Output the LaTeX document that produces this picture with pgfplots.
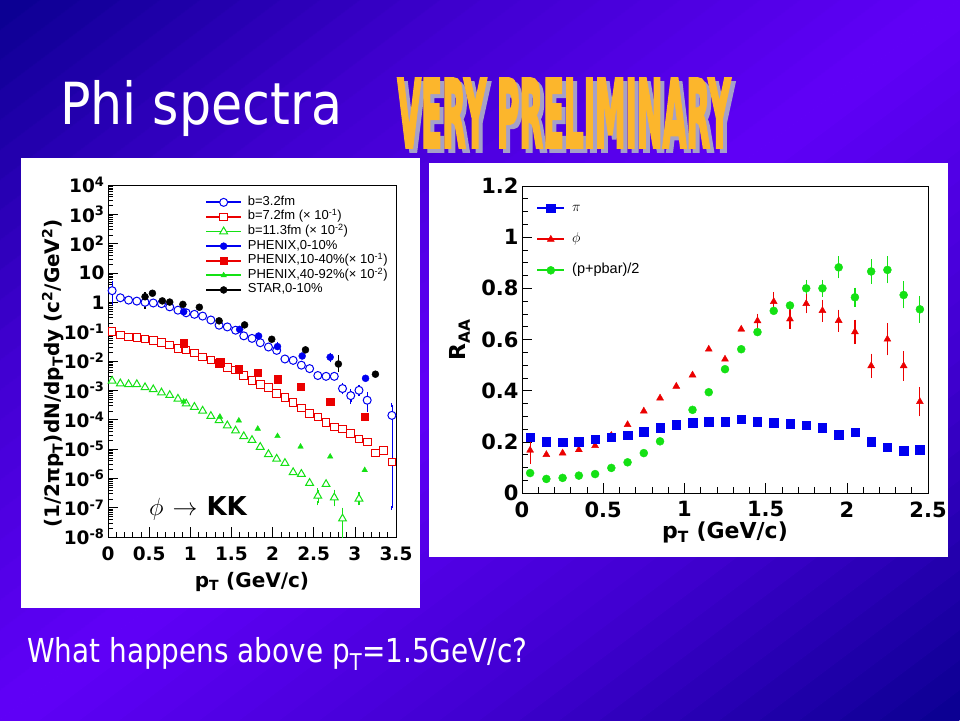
\documentclass[border=0pt]{standalone}
\usepackage{pgfplots}
\pgfplotsset{compat=1.18}
\usepackage{fontspec}
\setmainfont{Liberation Sans}
\newfontfamily\dvs{DejaVu Sans}
\newfontfamily\wa{DejaVu Sans Bold}[FakeBold=4]

\definecolor{bgdark}{RGB}{10,0,144}
\definecolor{bgmid}{RGB}{64,0,208}
\definecolor{bgbright}{RGB}{96,0,248}
\definecolor{rblue}{RGB}{0,0,240}
\definecolor{rred}{RGB}{235,0,0}
\definecolor{rgreen}{RGB}{20,225,20}
\definecolor{wordart}{RGB}{252,182,44}
\definecolor{wshadow}{RGB}{165,160,200}

\newcommand\tp[1]{10\textsuperscript{#1}}
\newcommand\prelim{\fontsize{93}{93}\wa\scalebox{0.33}[1]{VERY PRELIMINARY}}

\begin{document}
\begin{tikzpicture}[x=1pt,y=1pt]
\useasboundingbox (0,0) rectangle (960,720);
% slide background: diagonal bands, dark in two corners, bright along the other diagonal
\begin{scope}
  \clip (0,0) rectangle (960,720);
  \begin{scope}[shift={(480,360)}, rotate=36.87]
    \foreach \i in {0,...,47} {
      \pgfmathsetmacro\t{abs((\i+0.5)/24-1)}
      \pgfmathsetmacro\pa{min(100,\t*200)}
      \pgfmathsetmacro\pb{max(0,\t*200-100)}
      \ifdim\t pt<0.5pt \colorlet{cc}{bgmid!\pa!bgbright}\else\colorlet{cc}{bgdark!\pb!bgmid}\fi
      \fill[cc] (-700,{-576+\i*24}) rectangle (700,{-576+(\i+1)*24+0.6});
    }
  \end{scope}
\end{scope}

% title
\node[anchor=base west, inner sep=0pt, text=white] at (60,595)
  {\fontsize{58}{60}\dvs\scalebox{0.873}[1]{Phi spectra}};

% word art
\node[text=wshadow, inner sep=0pt] at (568,603) {\prelim};
\node[text=wordart, inner sep=0pt] at (564,607) {\prelim};

% bottom line
\node[anchor=base west, inner sep=0pt, text=white] at (27,58)
  {\fontsize{33}{36}\dvs\scalebox{0.845}[1]{What happens above p\textsubscript{T}=1.5GeV/c?}};

% white panels
\fill[white] (21,112) rectangle (420,562);
\fill[white] (429,163) rectangle (948,557);

% ---------------- left: spectra ----------------
\begin{axis}[
  at={(108pt,183pt)}, anchor=south west,
  scale only axis, width=288pt, height=352pt,
  ymode=log, xmin=0, xmax=3.5, ymin=1e-8, ymax=1e4,
  xtick={0,0.5,1,1.5,2,2.5,3,3.5}, minor x tick num=4,
  ytickten={-8,-7,...,4},
  yticklabels={\tp{-8},\tp{-7},\tp{-6},\tp{-5},\tp{-4},\tp{-3},\tp{-2},\tp{-1},1,10,\tp{2},\tp{3},\tp{4}},
  xtick pos=bottom, ytick pos=left, tick align=inside,
  major tick length=10pt, minor tick length=5pt,
  tick style={black, line width=0.6pt},
  axis line style={black, line width=0.8pt},
  /pgf/number format/assume math mode=true,
  tick label style={font=\fontsize{18.5}{20}\dvs\bfseries},
  xticklabel style={yshift=-6pt},
  xlabel={p\textsubscript{T} (GeV/c)},
  xlabel style={at={(axis description cs:0.5,-0.128)}, anchor=center, font=\fontsize{20}{22}\dvs\bfseries},
  ylabel={(1/2πp\textsubscript{T})dN/dp\textsubscript{T}dy (c\textsuperscript{2}/GeV\textsuperscript{2})},
  ylabel style={at={(axis description cs:-0.191,0.465)}, anchor=center, font=\fontsize{20}{22}\dvs\bfseries},
  legend style={at={(axis description cs:0.337,0.972)}, anchor=north west, draw=none, fill=none,
    font=\fontsize{13}{14}\selectfont, inner sep=0pt, column sep=5pt,
    nodes={inner sep=0.8pt, text height=9.5pt, text depth=3.5pt}},
  legend cell align=left,
  legend image code/.code={
    \draw[#1, line width=1.8pt] (0pt,0pt) -- (35pt,0pt);
    \draw[#1] plot coordinates {(17.5pt,0pt)};},
]
% error bars first
\addplot[rblue, forget plot, only marks, mark=none, line width=1.2pt,
  error bars/.cd, y dir=both, y explicit, error mark options={rblue, mark size=2pt, line width=1.2pt}]
  coordinates {(0.05,2.5) += (0,2.0) -= (0,1.57)
    (2.85,0.00115) += (0,0.0004) -= (0,0.0003)
    (2.95,0.00066) += (0,0.0003) -= (0,0.00025)
    (3.05,0.001) += (0,0.0003) -= (0,0.00025)
    (3.15,0.00046) += (0,0.0003) -= (0,0.00025)
    (3.45,0.00014) += (0,0.00018) -= (0,0.0001399)};
\addplot[rgreen, forget plot, only marks, mark=none, line width=1.2pt,
  error bars/.cd, y dir=both, y explicit, error mark options={rgreen, mark size=2pt, line width=1.2pt}]
  coordinates {(2.55,2.5e-7) += (0,1.5e-7) -= (0,1.1e-7)
    (2.75,2.2e-7) += (0,1.3e-7) -= (0,0.9e-7)
    (2.85,4.2e-8) += (0,4.3e-8) -= (0,4.19e-8)
    (3.05,2.0e-7) += (0,0.9e-7) -= (0,0.6e-7)};
\addplot[black, forget plot, only marks, mark=none, line width=1.2pt,
  error bars/.cd, y dir=both, y explicit, error mark options={black, mark size=2pt, line width=1.2pt}]
  coordinates {(0.45,1.55) += (0,0.31) -= (0,0.84)
    (2.8,0.0079) += (0,0.0056) -= (0,0.003)};
\addplot[rblue, forget plot, only marks, mark=none, line width=1.2pt,
  error bars/.cd, y dir=both, y explicit, error mark options={rblue, mark size=2pt, line width=1.2pt}]
  coordinates {(2.06,0.031) += (0,0.008) -= (0,0.007)
    (2.7,0.0135) += (0,0.003) -= (0,0.003)};

% b=3.2fm
\addplot[rblue, only marks, mark=*, mark size=4pt, mark options={fill=white, line width=1pt}]
  coordinates {(0.05,2.5) (0.15,1.43) (0.25,1.19) (0.35,1.1) (0.45,1.0) (0.55,0.95)
    (0.65,0.9) (0.75,0.7) (0.85,0.54) (0.95,0.44) (1.05,0.39) (1.15,0.34) (1.25,0.25)
    (1.35,0.166) (1.45,0.145) (1.55,0.112) (1.65,0.072) (1.75,0.059) (1.85,0.042)
    (1.95,0.030) (2.05,0.023) (2.15,0.0117) (2.25,0.0105) (2.35,0.0072) (2.45,0.0055)
    (2.55,0.0032) (2.65,0.003) (2.75,0.003) (2.85,0.00115) (2.95,0.00066) (3.05,0.001)
    (3.15,0.00046) (3.45,0.00014)};
\addlegendentry{b=3.2fm}
% b=7.2fm x 0.1
\addplot[rred, only marks, mark=square*, mark size=3.8pt, mark options={fill=white, line width=1pt}]
  coordinates {(0.05,0.1) (0.15,0.076) (0.25,0.066) (0.35,0.063) (0.45,0.057) (0.55,0.049)
    (0.65,0.042) (0.75,0.035) (0.85,0.027) (0.95,0.0234) (1.05,0.019) (1.15,0.0138)
    (1.25,0.0107) (1.35,0.0081) (1.45,0.006) (1.55,0.0049) (1.65,0.0032) (1.75,0.0022)
    (1.85,0.0016) (1.95,0.00126) (2.05,7.8e-4) (2.15,5.6e-4) (2.25,3.8e-4) (2.35,2.5e-4)
    (2.45,1.6e-4) (2.55,1.23e-4) (2.65,8.1e-5) (2.75,5.6e-5) (2.85,4.8e-5) (2.95,3.3e-5)
    (3.05,2.2e-5) (3.15,1.74e-5) (3.25,7.2e-6) (3.35,9.1e-6) (3.45,3.6e-6)};
\addlegendentry{b=7.2fm (\texttimes{} 10\textsuperscript{-1})}
% b=11.3fm x 0.01
\addplot[rgreen, only marks, mark=triangle*, mark size=4.5pt, mark options={fill=white, line width=1pt}]
  coordinates {(0.05,2.1e-3) (0.15,1.7e-3) (0.25,1.6e-3) (0.35,1.6e-3) (0.45,1.26e-3)
    (0.55,1.07e-3) (0.65,8.3e-4) (0.75,6.8e-4) (0.85,5.1e-4) (0.95,3.5e-4) (1.05,2.7e-4)
    (1.15,2.0e-4) (1.25,1.32e-4) (1.35,9.5e-5) (1.45,6.3e-5) (1.55,4.2e-5) (1.65,2.7e-5)
    (1.75,2.0e-5) (1.85,1.17e-5) (1.95,6.6e-6) (2.05,4.6e-6) (2.15,3.3e-6) (2.25,1.6e-6)
    (2.35,1.4e-6) (2.45,6.9e-7) (2.55,2.5e-7) (2.65,6.3e-7) (2.75,2.2e-7) (2.85,4.2e-8)
    (3.05,2.0e-7)};
\addlegendentry{b=11.3fm (\texttimes{} 10\textsuperscript{-2})}
% PHENIX 0-10%
\addplot[rblue, only marks, mark=*, mark size=3.5pt]
  coordinates {(0.92,0.48) (1.6,0.12) (1.83,0.071) (2.06,0.031) (2.36,0.0148)
    (2.7,0.0135) (3.13,0.00257)};
\addlegendentry{PHENIX,0-10\%}
% PHENIX 10-40% x 0.1
\addplot[rred, only marks, mark=square*, mark size=3.8pt]
  coordinates {(0.92,0.04) (1.36,0.0093) (1.59,0.0052) (1.82,0.004) (2.06,0.0024)
    (2.34,0.00132) (2.7,0.00041) (3.12,0.000126)};
\addlegendentry{PHENIX,10-40\%(\texttimes{} 10\textsuperscript{-1})}
% PHENIX 40-92% x 0.01
\addplot[rgreen, only marks, mark=triangle*, mark size=3.2pt]
  coordinates {(0.92,4.1e-4) (1.36,1.26e-4) (1.59,9.3e-5) (1.82,4.9e-5) (2.06,2.75e-5)
    (2.34,1.2e-5) (2.7,5.5e-6) (3.12,1.9e-6)};
\addlegendentry{PHENIX,40-92\%(\texttimes{} 10\textsuperscript{-2})}
% STAR 0-10%
\addplot[black, only marks, mark=*, mark size=3.5pt]
  coordinates {(0.45,1.55) (0.54,2.04) (0.66,1.12) (0.75,1.02) (0.91,0.85) (1.11,0.68)
    (1.35,0.234) (1.66,0.17) (1.99,0.055) (2.4,0.024) (2.8,0.0079) (3.25,0.00355)};
\addlegendentry{STAR,0-10\%}
\end{axis}

\node[anchor=west, inner sep=0pt] at (149,212)
  {\fontsize{27}{29}\selectfont$\phi$\hspace{9pt}$\rightarrow$\hspace{9pt}{\fontsize{26}{28}\dvs\bfseries KK}};

% ---------------- right: R_AA ----------------
\begin{axis}[
  at={(522pt,227pt)}, anchor=south west,
  scale only axis, width=406pt, height=307pt,
  xmin=0, xmax=2.5, ymin=0, ymax=1.2,
  xtick={0,0.5,1,1.5,2,2.5}, minor x tick num=4,
  ytick={0,0.2,0.4,0.6,0.8,1,1.2}, minor y tick num=3,
  xtick pos=bottom, ytick pos=left, tick align=inside,
  major tick length=10pt, minor tick length=6pt,
  tick style={black, line width=0.6pt},
  axis line style={black, line width=0.8pt},
  /pgf/number format/assume math mode=true,
  tick label style={font=\fontsize{21}{23}\dvs\bfseries},
  xticklabel style={yshift=-5pt},
  xlabel={p\textsubscript{T} (GeV/c)},
  xlabel style={at={(axis description cs:0.5,-0.127)}, anchor=center, font=\fontsize{22}{24}\dvs\bfseries},
  ylabel={R\textsubscript{AA}},
  ylabel style={at={(axis description cs:-0.153,0.5)}, anchor=center, font=\fontsize{22}{24}\dvs\bfseries},
  legend style={at={(axis description cs:0.035,0.954)}, anchor=north west, draw=none, fill=none,
    font=\fontsize{14.5}{16}\selectfont, inner sep=0pt, column sep=6pt, row sep=15pt,
    nodes={inner sep=1pt, text height=10pt, text depth=4pt}},
  legend cell align=left, reverse legend,
  legend image code/.code={
    \draw[#1, line width=1.8pt] (0pt,0pt) -- (27pt,0pt);
    \draw[#1] plot coordinates {(13.5pt,0pt)};},
  error bars/error bar style={line width=1.2pt},
]
\addplot[rgreen, only marks, mark=*, mark size=4pt,
  error bars/.cd, y dir=both, y explicit, error mark options={rgreen, mark size=2pt, line width=1.2pt}]
  coordinates {(0.05,0.078) (0.15,0.055) (0.25,0.059) (0.35,0.068) (0.45,0.074)
    (0.55,0.098) (0.65,0.12) (0.75,0.156) (0.85,0.202) (0.95,0.265) (1.05,0.325)
    (1.15,0.394) (1.25,0.484) (1.35,0.562) (1.45,0.629) (1.55,0.712) (1.65,0.733)
    (1.75,0.8) +- (0,0.025) (1.85,0.8) +- (0,0.025) (1.95,0.882) +- (0,0.035)
    (2.05,0.765) +- (0,0.03) (2.15,0.866) +- (0,0.04) (2.25,0.872) +- (0,0.045)
    (2.35,0.774) +- (0,0.045) (2.45,0.718) +- (0,0.045)};
\addlegendentry{(p+pbar)/2}
\addplot[rred, only marks, mark=triangle*, mark size=4pt,
  error bars/.cd, y dir=both, y explicit, error mark options={rred, mark size=2pt, line width=1.2pt}]
  coordinates {(0.05,0.167) +- (0,0.045) (0.15,0.15) (0.25,0.156) (0.35,0.169) (0.45,0.185)
    (0.55,0.225) (0.65,0.267) (0.75,0.32) (0.85,0.371) (0.95,0.417) (1.05,0.461)
    (1.15,0.562) (1.25,0.523) (1.35,0.64) (1.45,0.673) +- (0,0.02) (1.55,0.748) +- (0,0.03)
    (1.65,0.68) +- (0,0.03) (1.75,0.74) +- (0,0.03) (1.85,0.713) +- (0,0.035)
    (1.95,0.674) +- (0,0.035) (2.05,0.63) +- (0,0.04) (2.15,0.497) +- (0,0.04)
    (2.25,0.601) +- (0,0.055) (2.35,0.497) +- (0,0.05) (2.45,0.357) +- (0,0.05)};
\addlegendentry{$\phi$}
\addplot[rblue, only marks, mark=square*, mark size=4.2pt]
  coordinates {(0.05,0.217) (0.15,0.2) (0.25,0.198) (0.35,0.2) (0.45,0.211) (0.55,0.217)
    (0.65,0.226) (0.75,0.24) (0.85,0.256) (0.95,0.267) (1.05,0.275) (1.15,0.279)
    (1.25,0.279) (1.35,0.288) (1.45,0.279) (1.55,0.275) (1.65,0.271) (1.75,0.264)
    (1.85,0.256) (1.95,0.228) (2.05,0.237) (2.15,0.2) (2.25,0.178) (2.35,0.165) (2.45,0.169)};
\addlegendentry{$\pi$}
\end{axis}
\end{tikzpicture}
\end{document}
